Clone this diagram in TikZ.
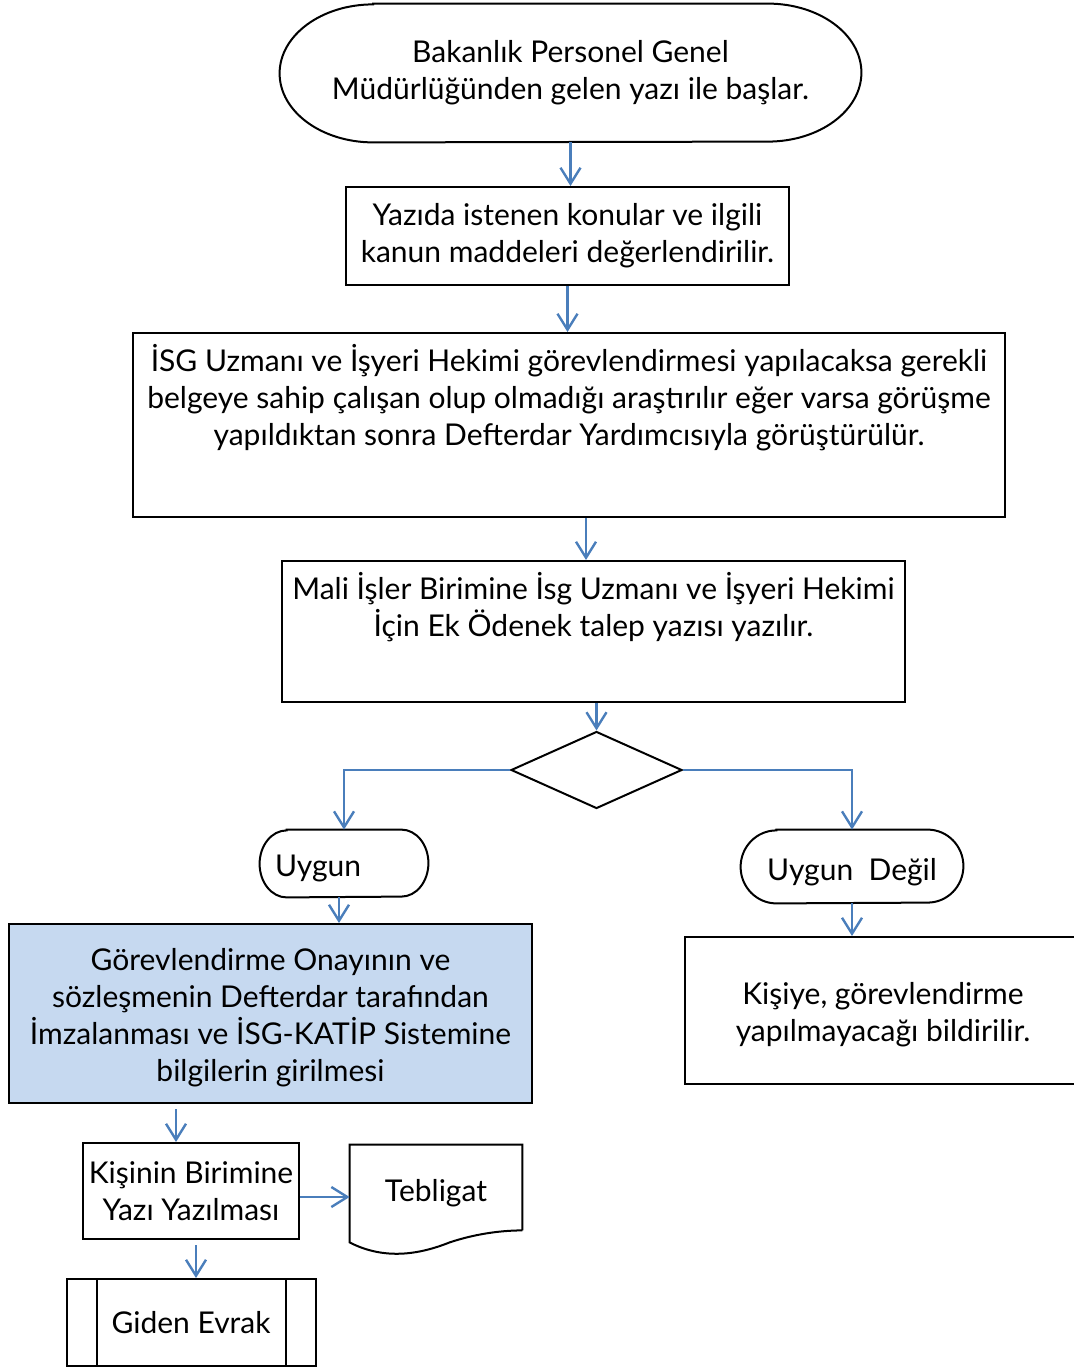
\documentclass[tikz,border=0pt]{standalone}
\usepackage{fontspec}
\setmainfont{Lato}
\usepackage{tikz}
\usetikzlibrary{arrows.meta, shapes.geometric}
\definecolor{arrowblue}{HTML}{4A7EBB}
\definecolor{lightblue}{HTML}{C6D9F0}
\tikzstyle{line} = [draw, arrowblue, line width=1.2pt, -{Straight Barb[length=8pt,width=10pt]}]
\tikzstyle{block} = [rectangle, draw, line width=1pt, align=center, inner sep=0pt]
\tikzstyle{blockterm} = [rectangle, align=center, inner sep=0pt]
\tikzstyle{decision} = [diamond, draw, line width=1pt, inner sep=0pt]
% terminator outline: node, x radius, y radius
\newcommand{\termshape}[3]{%
  \draw[line width=1pt] ([xshift=#2]#1.north west) -- ([xshift=-#2]#1.north east)
    arc[start angle=90, end angle=-90, x radius=#2, y radius=#3]
    -- ([xshift=#2]#1.south west)
    arc[start angle=270, end angle=90, x radius=#2, y radius=#3] -- cycle;}

\begin{document}
\begin{tikzpicture}[font=\fontsize{15}{18.5}\selectfont]
            \useasboundingbox (0,0) rectangle (536.5pt,-684.5pt);

            \node[blockterm, minimum width=290.5pt, minimum height=69pt] (start) at (285.25pt,-36.5pt) {Bakanlık Personel Genel\\Müdürlüğünden gelen yazı ile başlar.};
            \node[block, below of=start, node distance=81.5pt, xshift=-1.5pt, minimum width=221.5pt, minimum height=49pt] (konular) {Yazıda istenen konular ve ilgili\\kanun maddeleri değerlendirilir.};
            \node[block, below of=konular, node distance=94.5pt, xshift=0.75pt, minimum width=436pt, minimum height=92pt] (arastirma) {İSG Uzmanı ve İşyeri Hekimi görevlendirmesi yapılacaksa gerekli\\belgeye sahip çalışan olup olmadığı araştırılır eğer varsa görüşme\\yapıldıktan sonra Defterdar Yardımcısıyla görüştürülür.\\[12pt]\mbox{}};
            \node[block, below of=arastirma, node distance=103.25pt, xshift=12.25pt, minimum width=311.5pt, minimum height=70.5pt] (mali) {Mali İşler Birimine İsg Uzmanı ve İşyeri Hekimi\\İçin Ek Ödenek talep yazısı yazılır.\\[8.5pt]\mbox{}};
            \node[decision, below of=mali, node distance=69.25pt, xshift=1.5pt, minimum width=85.5pt, minimum height=38.5pt] (diam) {};
            \node[blockterm, below of=diam, node distance=46.75pt, xshift=-126.25pt, minimum height=33.5pt, text width=69pt, inner xsep=7.5pt, align=left, text height=16pt] (uygun) {Uygun};
            \node[blockterm, below of=diam, node distance=48.25pt, xshift=127.75pt, minimum width=111pt, minimum height=36.5pt, text height=16.3pt] (degil) {Uygun\ \ Değil};
            \node[block, below of=uygun, node distance=75pt, xshift=-36.75pt, fill=lightblue, minimum width=261.5pt, minimum height=89.5pt] (onay) {\rule{0pt}{15pt}Görevlendirme Onayının ve\\sözleşmenin Defterdar tarafından\\İmzalanması ve İSG-KATİP Sistemine\\bilgilerin girilmesi};
            \node[block, below of=degil, node distance=72pt, xshift=15.5pt, minimum width=198pt, minimum height=73.5pt] (bildirim) {\rule{0pt}{15pt}Kişiye, görevlendirme\\yapılmayacağı bildirilir.};
            \node[block, below of=onay, node distance=88.75pt, xshift=-39.75pt, minimum width=108pt, minimum height=48pt] (kisi) {Kişinin Birimine\\Yazı Yazılması};
            \node[blockterm, right of=kisi, node distance=122.5pt, yshift=1.75pt, minimum width=86pt, minimum height=42.5pt, text height=16.3pt] (teb) {Tebligat};
            \node[block, below of=kisi, node distance=65.75pt, minimum width=124.5pt, minimum height=43.5pt] (giden) {Giden Evrak};

            \termshape{start}{46.8pt}{34.5pt}
            \termshape{uygun}{13.5pt}{16.75pt}
            \termshape{degil}{17.9pt}{18.25pt}
            \draw[line width=1pt] (teb.south east) -- (teb.north east) -- (teb.north west) -- ([yshift=-6pt]teb.south west)
                .. controls ([xshift=17.5pt,yshift=-15pt]teb.south west) and ([xshift=35pt,yshift=-12pt]teb.south west) .. ([xshift=50pt,yshift=-6pt]teb.south west)
                .. controls ([xshift=65pt,yshift=-1pt]teb.south west) and ([xshift=-8pt]teb.south east) .. (teb.south east);
            \draw[line width=1pt] ([xshift=15.5pt]giden.north west) -- ([xshift=15.5pt]giden.south west);
            \draw[line width=1pt] ([xshift=-15.5pt]giden.north east) -- ([xshift=-15.5pt]giden.south east);

            \path [line] (start) -- (start |- konular.north);
            \path [line] (konular) -- (konular |- arastirma.north);
            \path [line] ([xshift=8.5pt]arastirma.south) -- ([xshift=8.5pt]arastirma.south |- mali.north);
            \path [line] (mali.south -| diam.north) -- (diam.north);
            \path [line] (diam.west) -| (uygun.north);
            \path [line] (diam.east) -| (degil.north);
            \path [line] ([xshift=-2.5pt]uygun.south) -- ([xshift=-2.5pt]uygun.south |- onay.north);
            \path [line] (degil) -- (degil |- bildirim.north);
            \path [line] ([xshift=-7.5pt,yshift=-2.5pt]kisi.north |- onay.south) -- ([xshift=-7.5pt]kisi.north);
            \path [line] ([xshift=2.5pt,yshift=-2.5pt]kisi.south) -- ([xshift=2.5pt]kisi.south |- giden.north);
            \path [line] ([yshift=-3pt]kisi.east) -- ([yshift=-3pt]kisi.east -| teb.west);
      \end{tikzpicture}
\end{document}
